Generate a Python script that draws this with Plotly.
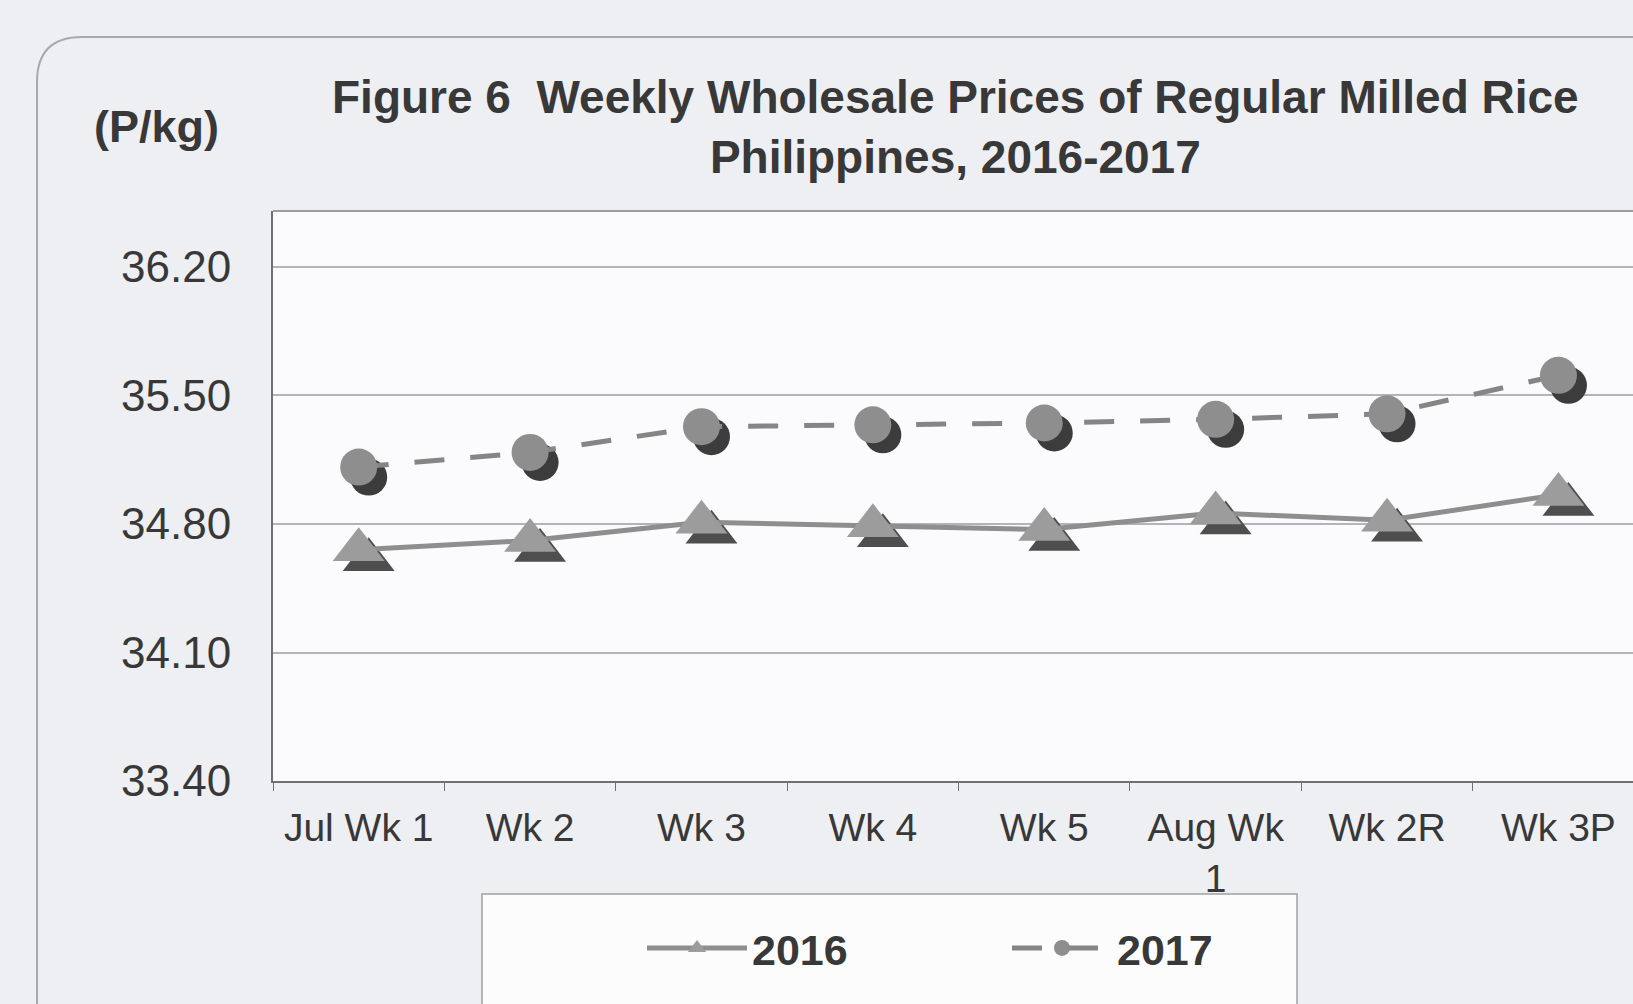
import plotly.graph_objects as go

# ---------------- data ----------------
categories = ["Jul Wk 1", "Wk 2", "Wk 3", "Wk 4", "Wk 5", "Aug Wk<br>1", "Wk 2R", "Wk 3P"]
prices_2016 = [34.66, 34.71, 34.81, 34.79, 34.77, 34.86, 34.82, 34.96]
prices_2017 = [35.11, 35.19, 35.33, 35.34, 35.35, 35.37, 35.40, 35.61]
y_ticks = [33.40, 34.10, 34.80, 35.50, 36.20]
series_names = ["2016", "2017"]

# ---------------- geometry ----------------
W, H = 1633, 1004
L, R, T, B = 273, 0, 211, 223
PW, PH = W - L - R, H - T - B
x_range = [-0.5, 7.435]
y_range = [33.40, 36.505]
band = PW / (x_range[1] - x_range[0])
ppu = PH / (y_range[1] - y_range[0])
dx, dy = 10, 10  # shadow offset in px
shadow_x = [x_range[0] - dx / band, x_range[1] - dx / band]
shadow_y = [y_range[0] + dy / ppu, y_range[1] + dy / ppu]


def px(xp):
    return (xp - L) / PW


def py(yp):
    return (H - B - yp) / PH


FONT = "Liberation Sans, Arial, sans-serif"
TXT = "#383838"

fig = go.Figure()

# shadows (drawn on shifted hidden axes, beneath)
fig.add_trace(go.Scatter(x=categories, y=prices_2016, mode="markers", xaxis="x", yaxis="y",
                         marker=dict(symbol="triangle-up", size=45, color="#4e4e4e"),
                         showlegend=False, hoverinfo="skip"))
fig.add_trace(go.Scatter(x=categories, y=prices_2017, mode="markers", xaxis="x", yaxis="y",
                         marker=dict(symbol="circle", size=37, color="#3c3c3c"),
                         showlegend=False, hoverinfo="skip"))

# main series
fig.add_trace(go.Scatter(x=categories, y=prices_2016, mode="lines+markers", name=series_names[0],
                         xaxis="x2", yaxis="y2",
                         line=dict(color="#8e8e8e", width=5),
                         marker=dict(symbol="triangle-up", size=45, color="#9c9c9c")))
fig.add_trace(go.Scatter(x=categories, y=prices_2017, mode="lines+markers", name=series_names[1],
                         xaxis="x2", yaxis="y2",
                         line=dict(color="#858585", width=5, dash="30px,26px"),
                         marker=dict(symbol="circle", size=37, color="#8e8e8e")))

# rounded chart border
x0, y0 = 37, 37
rad = 45
path = (f"M {px(x0)},{py(1030)} L {px(x0)},{py(y0 + rad)} "
        f"Q {px(x0)},{py(y0)} {px(x0 + rad)},{py(y0)} L {px(1660)},{py(y0)}")

shapes = [
    dict(type="path", xref="paper", yref="paper", path=path,
         line=dict(color="#a8a8ae", width=2), layer="below"),
    # plot area top border
    dict(type="line", xref="paper", yref="paper", x0=0, x1=1.02, y0=1, y1=1,
         line=dict(color="#9c9c9c", width=2)),
    # legend box
    dict(type="rect", xref="paper", yref="paper", x0=px(482), x1=px(1297),
         y0=py(1030), y1=py(894), fillcolor="#fcfcfd",
         line=dict(color="#a0a0a0", width=1.5)),
]

annotations = [
    dict(text="<b>Figure 6\u00a0 Weekly Wholesale Prices of Regular Milled Rice<br>Philippines, 2016-2017</b>",
         xref="paper", yref="paper", x=px(955), y=py(127), xanchor="center", yanchor="middle",
         showarrow=False, font=dict(family=FONT, size=46, color=TXT)),
    dict(text="<b>(P/kg)</b>", xref="paper", yref="paper", x=px(156), y=py(127),
         xanchor="center", yanchor="middle", showarrow=False,
         font=dict(family=FONT, size=45, color=TXT)),
]

fig.update_layout(
    width=W, height=H,
    margin=dict(l=L, r=R, t=T, b=B, autoexpand=False),
    paper_bgcolor="#eeeff3",
    plot_bgcolor="#fbfbfd",
    font=dict(family=FONT, color=TXT),
    xaxis=dict(type="category", categoryorder="array", categoryarray=categories,
               range=shadow_x, visible=False, showgrid=False, zeroline=False),
    yaxis=dict(range=shadow_y, visible=False, showgrid=False, zeroline=False),
    xaxis2=dict(type="category", categoryorder="array", categoryarray=categories,
                overlaying="x", anchor="y2", side="bottom", range=x_range,
                showline=True, linecolor="#707070", linewidth=2,
                ticks="outside", tickson="boundaries", ticklen=8, tickcolor="#707070",
                tickfont=dict(family=FONT, size=39, color=TXT), ticklabelstandoff=11,
                showgrid=False, zeroline=False),
    yaxis2=dict(overlaying="y", anchor="x2", side="left", range=y_range,
                tickvals=y_ticks, tickformat=".2f",
                showline=True, linecolor="#707070", linewidth=2,
                showgrid=True, gridcolor="#b4b4b8", gridwidth=1.5,
                ticks="", tickfont=dict(family=FONT, size=44, color=TXT),
                ticklabelstandoff=31, zeroline=False),
    showlegend=True,
    legend=dict(orientation="h", x=px(642), xanchor="left", y=py(948), yanchor="middle",
                bgcolor="rgba(0,0,0,0)", borderwidth=0,
                font=dict(family=FONT, size=43, color=TXT, weight="bold"),
                itemwidth=100, entrywidth=250, entrywidthmode="pixels"),
    shapes=shapes,
    annotations=annotations,
)

fig.write_html("out.html", config={"displayModeBar": False},
               post_script="document.body.style.margin='0';")
